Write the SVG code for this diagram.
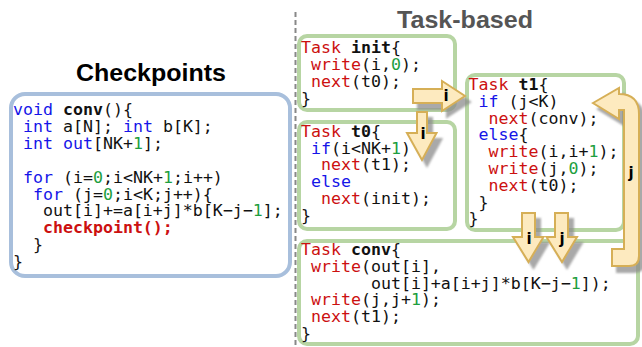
<svg xmlns="http://www.w3.org/2000/svg" width="642" height="347" viewBox="0 0 642 347">
<defs>
<style>
.code{font-family:"DejaVu Sans Mono",monospace;font-size:16.6px;fill:#111}
.kw{fill:#1515e8}
.num{fill:#1e9e40}
.red{fill:#cc1010}
.b{font-weight:bold}
.title{font-family:"Liberation Sans",Arial,sans-serif;font-weight:bold}
.tbox{fill:#fff;stroke:#b7d5a3;stroke-width:4}
.cbox{fill:#fff;stroke:#a8bfdc;stroke-width:4}
.arrow{fill:#fdeabf;stroke:#d6af57;stroke-width:2;stroke-linejoin:miter}
.lbl{font-family:"DejaVu Sans",sans-serif;font-weight:bold;font-size:15px;fill:#000;text-anchor:middle}
</style>
<filter id="sh" x="-30%" y="-30%" width="160%" height="160%">
<feDropShadow dx="5" dy="6" stdDeviation="0.8" flood-color="#8c8c8c" flood-opacity="0.75"/>
</filter>
</defs>
<rect width="642" height="347" fill="#fff"/>
<line x1="295.5" y1="12" x2="295.5" y2="347" stroke="#888" stroke-width="2" stroke-dasharray="5 3"/>
<text class="title" x="151" y="81" font-size="23" text-anchor="middle" textLength="150" lengthAdjust="spacingAndGlyphs" fill="#000">Checkpoints</text>
<text class="title" x="465" y="28" font-size="24" text-anchor="middle" textLength="136" lengthAdjust="spacingAndGlyphs" fill="#555">Task-based</text>

<g id="checkpoints">
<rect class="cbox" x="11" y="94" width="279" height="182" rx="14"/>
<text class="code" xml:space="preserve" x="13" y="115"><tspan class="kw">void</tspan> <tspan class="b">conv</tspan>(){</text>
<text class="code" xml:space="preserve" x="13" y="131.9"> <tspan class="kw">int</tspan> a[N]; <tspan class="kw">int</tspan> b[K];</text>
<text class="code" xml:space="preserve" x="13" y="148.8"> <tspan class="kw">int out</tspan>[NK+<tspan class="num">1</tspan>];</text>
<text class="code" xml:space="preserve" x="13" y="182.6"> <tspan class="kw">for</tspan> (i=<tspan class="num">0</tspan>;i&lt;NK+<tspan class="num">1</tspan>;i++)</text>
<text class="code" xml:space="preserve" x="13" y="199.5">  <tspan class="kw">for</tspan> (j=<tspan class="num">0</tspan>;i&lt;K;j++){</text>
<text class="code" xml:space="preserve" x="13" y="216.4">   out[i]+=a[i+j]*b[K−j−<tspan class="num">1</tspan>];</text>
<text class="code b red" xml:space="preserve" x="13" y="233.3">   checkpoint();</text>
<text class="code" xml:space="preserve" x="13" y="250.2">  }</text>
<text class="code" xml:space="preserve" x="13" y="267.1">}</text>
</g>

<g id="task-init">
<rect class="tbox" x="299" y="36" width="156" height="74" rx="8"/>
<text class="code" xml:space="preserve" x="301" y="53.3"><tspan class="red">Task</tspan> <tspan class="b">init</tspan>{</text>
<text class="code" xml:space="preserve" x="301" y="70.1"> <tspan class="red">write</tspan>(i,<tspan class="num">0</tspan>);</text>
<text class="code" xml:space="preserve" x="301" y="86.9"> <tspan class="red">next</tspan>(t0);</text>
<text class="code" xml:space="preserve" x="301" y="103.7">}</text>
</g>

<g id="task-t0">
<rect class="tbox" x="299" y="122" width="156" height="107" rx="8"/>
<text class="code" xml:space="preserve" x="301" y="136.8"><tspan class="red">Task</tspan> <tspan class="b">t0</tspan>{</text>
<text class="code" xml:space="preserve" x="301" y="153.6"> <tspan class="kw">if</tspan>(i&lt;NK+<tspan class="num">1</tspan>)</text>
<text class="code" xml:space="preserve" x="301" y="170.4">  <tspan class="red">next</tspan>(t1);</text>
<text class="code" xml:space="preserve" x="301" y="187.2"> <tspan class="kw">else</tspan></text>
<text class="code" xml:space="preserve" x="301" y="204">  <tspan class="red">next</tspan>(init);</text>
<text class="code" xml:space="preserve" x="301" y="220.8">}</text>
</g>

<g id="task-t1">
<rect class="tbox" x="467" y="75" width="157" height="155" rx="8"/>
<text class="code" xml:space="preserve" x="468.5" y="90"><tspan class="red">Task</tspan> <tspan class="b">t1</tspan>{</text>
<text class="code" xml:space="preserve" x="468.5" y="106.8"> <tspan class="kw">if</tspan> (j&lt;K)</text>
<text class="code" xml:space="preserve" x="468.5" y="123.6">  <tspan class="red">next</tspan>(conv);</text>
<text class="code" xml:space="preserve" x="468.5" y="140.4"> <tspan class="kw">else</tspan>{</text>
<text class="code" xml:space="preserve" x="468.5" y="157.2">  <tspan class="red">write</tspan>(i,i+<tspan class="num">1</tspan>);</text>
<text class="code" xml:space="preserve" x="468.5" y="174">  <tspan class="red">write</tspan>(j,<tspan class="num">0</tspan>);</text>
<text class="code" xml:space="preserve" x="468.5" y="190.8">  <tspan class="red">next</tspan>(t0);</text>
<text class="code" xml:space="preserve" x="468.5" y="207.6"> }</text>
<text class="code" xml:space="preserve" x="468.5" y="224.4">}</text>
</g>

<g id="task-conv">
<rect class="tbox" x="299" y="241" width="339" height="103" rx="8"/>
<text class="code" xml:space="preserve" x="301" y="255"><tspan class="red">Task</tspan> <tspan class="b">conv</tspan>{</text>
<text class="code" xml:space="preserve" x="301" y="271.8"> <tspan class="red">write</tspan>(out[i],</text>
<text class="code" xml:space="preserve" x="301" y="288.6">       out[i]+a[i+j]*b[K−j−<tspan class="num">1</tspan>]);</text>
<text class="code" xml:space="preserve" x="301" y="305.4"> <tspan class="red">write</tspan>(j,j+<tspan class="num">1</tspan>);</text>
<text class="code" xml:space="preserve" x="301" y="322.2"> <tspan class="red">next</tspan>(t1);</text>
<text class="code" xml:space="preserve" x="301" y="339">}</text>
</g>

<g id="connectors">
<g filter="url(#sh)">
<path class="arrow" d="M413,89 H442 V81 L465,96 L442,111 V103 H413 Z"/>
<path class="arrow" d="M417,112 H427 V133 H436.5 L422,160 L407,133 H417 Z"/>
<path class="arrow" d="M522,213 H535 V237 H543.5 L528.5,262 L513,237 H522 Z"/>
<path class="arrow" d="M555,213 H568 V237 H577 L562,262 L546.5,237 H555 Z"/>
<path class="arrow" d="M593,103 L619,88 V94 Q639,94 639,114 V256 Q639,266 629,266 H612 V249 H624 V110 H619 V119 Z"/>
</g>
<text class="lbl" x="446" y="100.5">i</text>
<text class="lbl" x="423" y="138.5">i</text>
<text class="lbl" x="529" y="243.5">i</text>
<text class="lbl" x="562" y="243.5">j</text>
<text class="lbl" x="631" y="178">j</text>
</g>
</svg>
